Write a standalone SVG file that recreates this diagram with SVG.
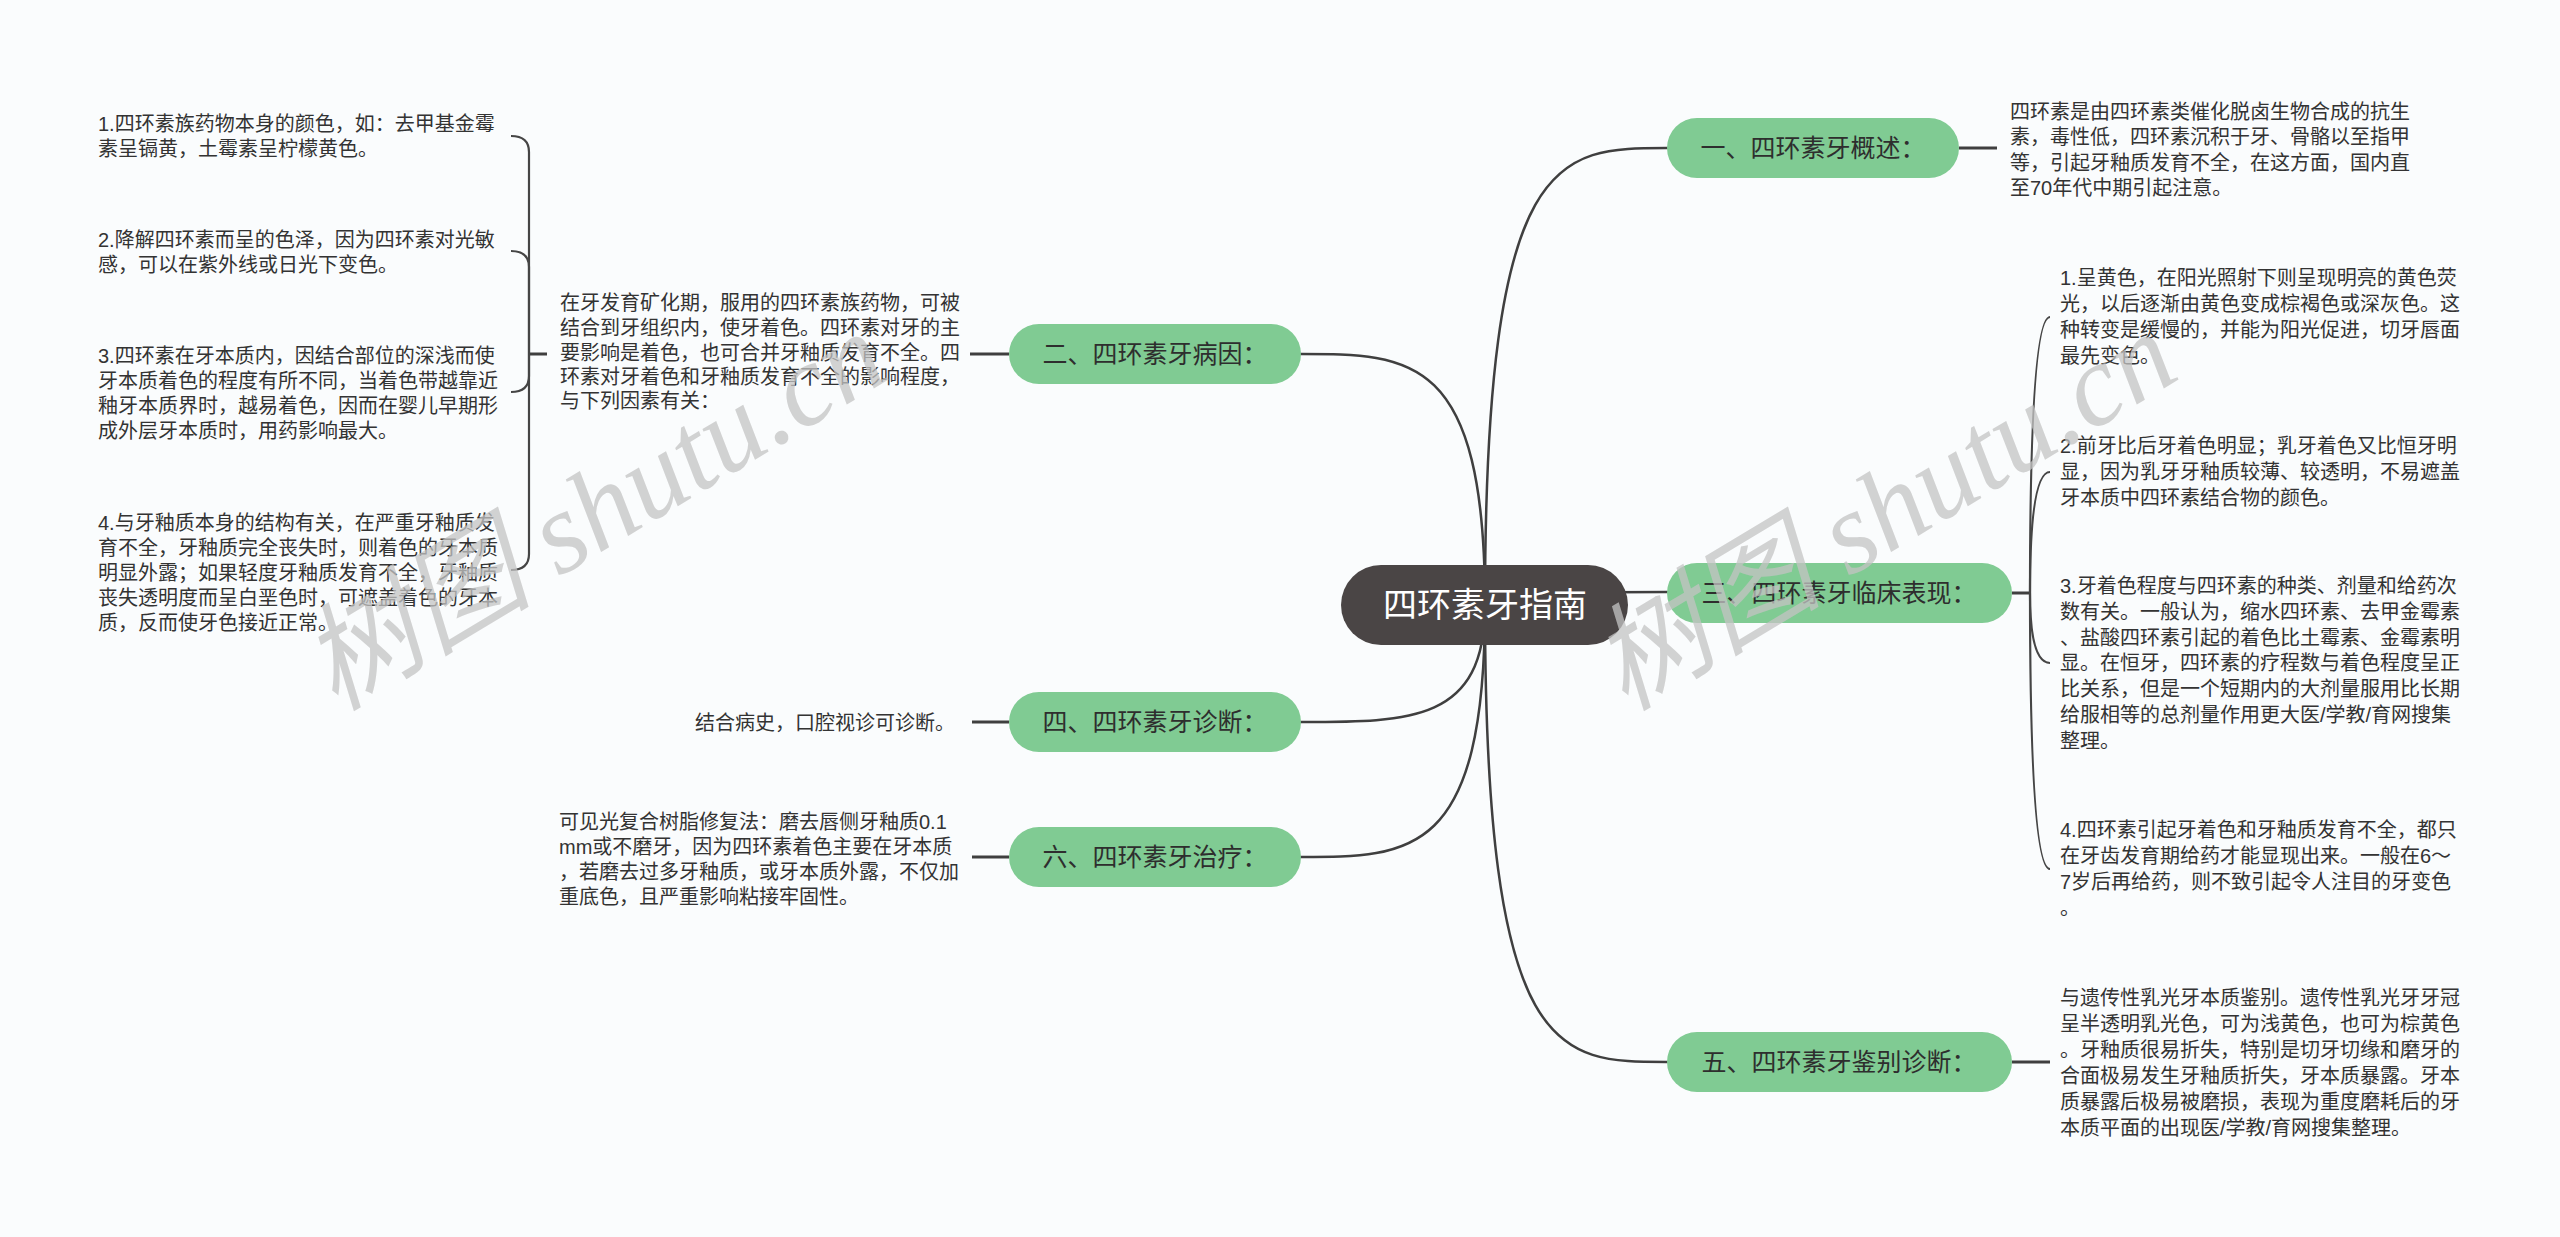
<svg xmlns="http://www.w3.org/2000/svg" width="2560" height="1237" viewBox="0 0 2560 1237">
<style>
.t{font-family:'Liberation Sans','Noto Sans CJK SC',sans-serif;font-size:20px;fill:#333;dominant-baseline:central}
.pt{font-family:'Liberation Sans','Noto Sans CJK SC',sans-serif;font-size:25px;fill:#2e2e2e;dominant-baseline:central;text-anchor:middle}
.rt{font-family:'Liberation Sans','Noto Sans CJK SC',sans-serif;font-size:34px;fill:#ffffff;dominant-baseline:central;text-anchor:middle}
.pill{fill:#80cb93}
.root{fill:#4a4545}
.c{fill:none;stroke:#3f3f3f;stroke-width:2.5;stroke-linecap:round}
.s{fill:none;stroke:#3f3f3f;stroke-width:3}
.b{fill:none;stroke:#454545;stroke-width:2.2}
.wm{font-family:'Liberation Serif','Noto Sans CJK SC',serif;font-style:italic;font-size:116px;fill:#c4c4c4;opacity:0.75}
</style>
<rect width="2560" height="1237" fill="#fafcfd"/>

<g id="connectors">
  <path class="c" d="M1485,605 C1485,148 1558,148 1667,148"/>
  <path class="c" d="M1485,605 C1485,354 1411,354 1301,354"/>
  <path class="c" d="M1485,605 C1485,592 1558,592 1667,592"/>
  <path class="c" d="M1485,605 C1485,722 1411,722 1301,722"/>
  <path class="c" d="M1485,605 C1485,857 1411,857 1301,857"/>
  <path class="c" d="M1485,605 C1485,1062 1558,1062 1667,1062"/>
  <path class="s" d="M1959,148 H1997"/>
  <path class="s" d="M1009,354 H970"/>
  <path class="s" d="M547,354 H529"/>
  <path class="b" d="M529,354 V152 Q529,136 511,136"/>
  <path class="b" d="M529,354 V267 Q529,251 511,251"/>
  <path class="b" d="M529,354 V376 Q529,392 511,392"/>
  <path class="b" d="M529,354 V554 Q529,570 511,570"/>
  <path class="s" d="M2012,593 H2030"/>
  <path class="b" d="M2030,593 Q2030,317 2050,317"/>
  <path class="b" d="M2030,593 Q2030,472 2050,472"/>
  <path class="b" d="M2030,593 Q2030,663 2050,663"/>
  <path class="b" d="M2030,593 Q2030,869 2050,869"/>
  <path class="s" d="M1009,722 H972"/>
  <path class="s" d="M1009,857 H972"/>
  <path class="s" d="M2012,1062 H2050"/>
</g>

<g id="root">
  <rect class="root" x="1341" y="565" width="287" height="80" rx="40"/>
  <text class="rt" x="1485" y="605">四环素牙指南</text>
</g>

<g id="n1">
  <rect class="pill" x="1667" y="118" width="292" height="60" rx="30"/>
  <text class="pt" x="1813" y="148">一、四环素牙概述：</text>
</g>
<g id="n1-text">
  <text class="t" x="2010" y="112">四环素是由四环素类催化脱卤生物合成的抗生</text>
  <text class="t" x="2010" y="137">素，毒性低，四环素沉积于牙、骨骼以至指甲</text>
  <text class="t" x="2010" y="163">等，引起牙釉质发育不全，在这方面，国内直</text>
  <text class="t" x="2010" y="188">至70年代中期引起注意。</text>
</g>

<g id="n2">
  <rect class="pill" x="1009" y="324" width="292" height="60" rx="30"/>
  <text class="pt" x="1155" y="354">二、四环素牙病因：</text>
</g>
<g id="n2-text">
  <text class="t" x="560" y="303">在牙发育矿化期，服用的四环素族药物，可被</text>
  <text class="t" x="560" y="328">结合到牙组织内，使牙着色。四环素对牙的主</text>
  <text class="t" x="560" y="353">要影响是着色，也可合并牙釉质发育不全。四</text>
  <text class="t" x="560" y="377">环素对牙着色和牙釉质发育不全的影响程度，</text>
  <text class="t" x="560" y="401">与下列因素有关：</text>
</g>
<g id="n2-1">
  <text class="t" x="98" y="124">1.四环素族药物本身的颜色，如：去甲基金霉</text>
  <text class="t" x="98" y="149">素呈镉黄，土霉素呈柠檬黄色。</text>
</g>
<g id="n2-2">
  <text class="t" x="98" y="240">2.降解四环素而呈的色泽，因为四环素对光敏</text>
  <text class="t" x="98" y="265">感，可以在紫外线或日光下变色。</text>
</g>
<g id="n2-3">
  <text class="t" x="98" y="356">3.四环素在牙本质内，因结合部位的深浅而使</text>
  <text class="t" x="98" y="381">牙本质着色的程度有所不同，当着色带越靠近</text>
  <text class="t" x="98" y="406">釉牙本质界时，越易着色，因而在婴儿早期形</text>
  <text class="t" x="98" y="431">成外层牙本质时，用药影响最大。</text>
</g>
<g id="n2-4">
  <text class="t" x="98" y="523">4.与牙釉质本身的结构有关，在严重牙釉质发</text>
  <text class="t" x="98" y="548">育不全，牙釉质完全丧失时，则着色的牙本质</text>
  <text class="t" x="98" y="573">明显外露；如果轻度牙釉质发育不全，牙釉质</text>
  <text class="t" x="98" y="598">丧失透明度而呈白垩色时，可遮盖着色的牙本</text>
  <text class="t" x="98" y="623">质，反而使牙色接近正常。</text>
</g>

<g id="n3">
  <rect class="pill" x="1667" y="563" width="345" height="60" rx="30"/>
  <text class="pt" x="1839" y="593">三、四环素牙临床表现：</text>
</g>
<g id="n3-1">
  <text class="t" x="2060" y="278">1.呈黄色，在阳光照射下则呈现明亮的黄色荧</text>
  <text class="t" x="2060" y="304">光，以后逐渐由黄色变成棕褐色或深灰色。这</text>
  <text class="t" x="2060" y="330">种转变是缓慢的，并能为阳光促进，切牙唇面</text>
  <text class="t" x="2060" y="356">最先变色。</text>
</g>
<g id="n3-2">
  <text class="t" x="2060" y="446">2.前牙比后牙着色明显；乳牙着色又比恒牙明</text>
  <text class="t" x="2060" y="472">显，因为乳牙牙釉质较薄、较透明，不易遮盖</text>
  <text class="t" x="2060" y="498">牙本质中四环素结合物的颜色。</text>
</g>
<g id="n3-3">
  <text class="t" x="2060" y="586">3.牙着色程度与四环素的种类、剂量和给药次</text>
  <text class="t" x="2060" y="612">数有关。一般认为，缩水四环素、去甲金霉素</text>
  <text class="t" x="2060" y="638">、盐酸四环素引起的着色比土霉素、金霉素明</text>
  <text class="t" x="2060" y="663">显。在恒牙，四环素的疗程数与着色程度呈正</text>
  <text class="t" x="2060" y="689">比关系，但是一个短期内的大剂量服用比长期</text>
  <text class="t" x="2060" y="715">给服相等的总剂量作用更大医/学教/育网搜集</text>
  <text class="t" x="2060" y="741">整理。</text>
</g>
<g id="n3-4">
  <text class="t" x="2060" y="830">4.四环素引起牙着色和牙釉质发育不全，都只</text>
  <text class="t" x="2060" y="856">在牙齿发育期给药才能显现出来。一般在6～</text>
  <text class="t" x="2060" y="882">7岁后再给药，则不致引起令人注目的牙变色</text>
  <text class="t" x="2060" y="908">。</text>
</g>

<g id="n4">
  <rect class="pill" x="1009" y="692" width="292" height="60" rx="30"/>
  <text class="pt" x="1155" y="722">四、四环素牙诊断：</text>
</g>
<g id="n4-text">
  <text class="t" x="955" y="723" text-anchor="end">结合病史，口腔视诊可诊断。</text>
</g>

<g id="n6">
  <rect class="pill" x="1009" y="827" width="292" height="60" rx="30"/>
  <text class="pt" x="1155" y="857">六、四环素牙治疗：</text>
</g>
<g id="n6-text">
  <text class="t" x="559" y="822">可见光复合树脂修复法：磨去唇侧牙釉质0.1</text>
  <text class="t" x="559" y="847">mm或不磨牙，因为四环素着色主要在牙本质</text>
  <text class="t" x="559" y="872">，若磨去过多牙釉质，或牙本质外露，不仅加</text>
  <text class="t" x="559" y="897">重底色，且严重影响粘接牢固性。</text>
</g>

<g id="n5">
  <rect class="pill" x="1667" y="1032" width="345" height="60" rx="30"/>
  <text class="pt" x="1839" y="1062">五、四环素牙鉴别诊断：</text>
</g>
<g id="n5-text">
  <text class="t" x="2060" y="998">与遗传性乳光牙本质鉴别。遗传性乳光牙牙冠</text>
  <text class="t" x="2060" y="1024">呈半透明乳光色，可为浅黄色，也可为棕黄色</text>
  <text class="t" x="2060" y="1050">。牙釉质很易折失，特别是切牙切缘和磨牙的</text>
  <text class="t" x="2060" y="1076">合面极易发生牙釉质折失，牙本质暴露。牙本</text>
  <text class="t" x="2060" y="1102">质暴露后极易被磨损，表现为重度磨耗后的牙</text>
  <text class="t" x="2060" y="1128">本质平面的出现医/学教/育网搜集整理。</text>
</g>

<g id="watermark">
  <text class="wm" transform="translate(335,712) rotate(-31)">树图 shutu.cn</text>
  <text class="wm" transform="translate(1625,712) rotate(-31)">树图 shutu.cn</text>
</g>
</svg>
